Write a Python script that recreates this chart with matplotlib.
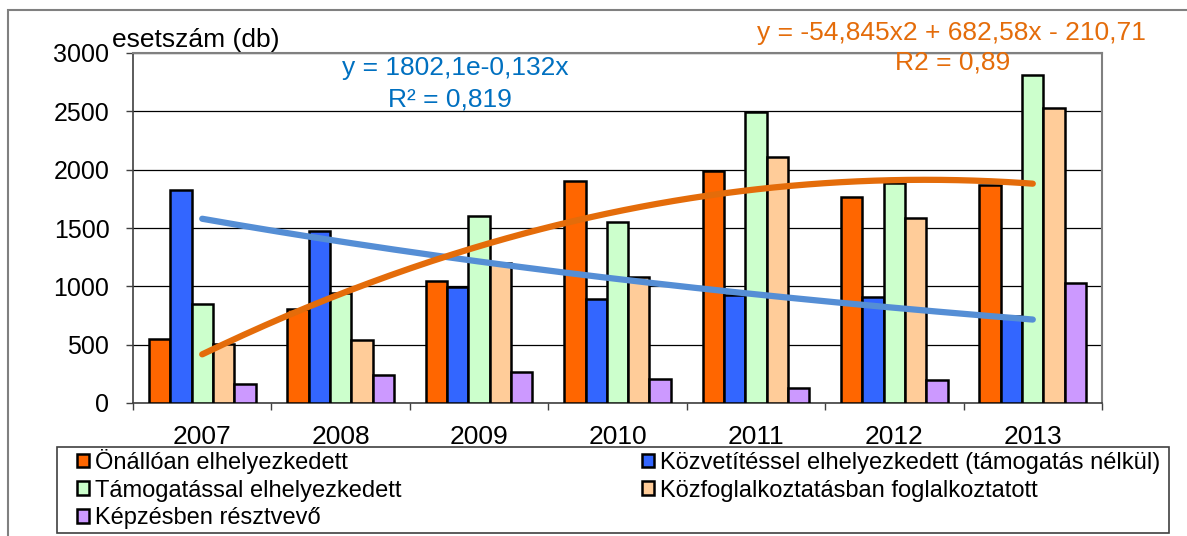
import numpy as np
import matplotlib
matplotlib.use("Agg")
from matplotlib import pyplot as plt
from matplotlib.patches import Rectangle

plt.rcParams['font.family'] = ['Liberation Sans', 'DejaVu Sans']

years = ['2007', '2008', '2009', '2010', '2011', '2012', '2013']
series_names = [
    'Önállóan elhelyezkedett',
    'Közvetítéssel elhelyezkedett (támogatás nélkül)',
    'Támogatással elhelyezkedett',
    'Közfoglalkoztatásban foglalkoztatott',
    'Képzésben résztvevő',
]
onallo = [550, 810, 1045, 1905, 1985, 1765, 1870]
kozvetites = [1825, 1475, 995, 895, 925, 905, 750]
tamogatas = [850, 945, 1605, 1555, 2495, 1890, 2815]
kozfoglalkoztatas = [510, 540, 1200, 1080, 2110, 1590, 2525]
kepzes = [165, 240, 270, 210, 130, 200, 1025]
colors = ['#FF6600', '#3366FF', '#CCFFCC', '#FFCC99', '#CC99FF']

# trend lines as printed on the chart (x = 1..7)
exp_a, exp_b = 1802.1, -0.132
quad = [-54.845, 682.58, -210.71]

W, H = 1187, 536
fig = plt.figure(figsize=(W / 100, H / 100), dpi=100)
ax = fig.add_axes([133 / W, 133 / H, 969 / W, 350 / H])

values = [onallo, kozvetites, tamogatas, kozfoglalkoztatas, kepzes]
n = len(values)
w = 0.154
x = np.arange(len(years))
bars = []
for i, (vals, c) in enumerate(zip(values, colors)):
    b = ax.bar(x + (i - (n - 1) / 2) * w, vals, width=w, color=c,
               edgecolor='black', linewidth=1.8, zorder=3)
    bars.append(b)

# trend lines
t = np.linspace(1, 7, 200)
ax.plot(t - 1, exp_a * np.exp(exp_b * t), color='#558ED5', lw=4.5,
        solid_capstyle='round', zorder=4)
ax.plot(t - 1, np.polyval(quad, t), color='#E46C0A', lw=4.5,
        solid_capstyle='round', zorder=4)

ax.set_xlim(-0.5, len(years) - 0.5)
ax.set_ylim(0, 3000)
ax.set_yticks(range(0, 3001, 500))
ax.yaxis.grid(True, color='#000000', lw=0.9, zorder=0)
ax.set_axisbelow(True)
ax.tick_params(axis='y', labelsize=18, length=5, width=1, color='#404040', pad=12)

ax.set_xticks(np.arange(-0.5, len(years), 1.0))
ax.set_xticklabels([])
ax.set_xticks(x, minor=True)
ax.set_xticklabels(years, minor=True, fontsize=19)
ax.tick_params(axis='x', which='major', length=5, width=1, color='#404040')
ax.tick_params(axis='x', which='minor', length=0, pad=16)

for s in ['left', 'bottom']:
    ax.spines[s].set_color('#404040')
    ax.spines[s].set_linewidth(1.2)
for s in ['top', 'right']:
    ax.spines[s].set_color('#808080')
    ax.spines[s].set_linewidth(1.5)

fig.text(112 / W, 1 - 40 / H, 'esetszám (db)', fontsize=19, va='center', ha='left')
fig.text(455 / W, 1 - 68 / H, 'y = 1802,1e-0,132x', fontsize=19,
         color='#0070C0', ha='center', va='center')
fig.text(450 / W, 1 - 99 / H, 'R² = 0,819', fontsize=19,
         color='#0070C0', ha='center', va='center')
fig.text(951 / W, 1 - 33 / H, 'y = -54,845x2 + 682,58x - 210,71', fontsize=19,
         color='#E46C0A', ha='center', va='center')
fig.text(953 / W, 1 - 62 / H, 'R2 = 0,89', fontsize=19,
         color='#E46C0A', ha='center', va='center')

# legend box
fig.patches.append(Rectangle((57 / W, 3 / H), 1112 / W, 86 / H,
                             transform=fig.transFigure, fill=False,
                             edgecolor='#404040', lw=1.2))
order = [0, 2, 4, 1, 3]
fig.legend([bars[i] for i in order], [series_names[i] for i in order],
           ncol=2, mode='expand', loc='center',
           bbox_to_anchor=(77 / W, 4 / H, 1083 / W, 86 / H),
           fontsize=17, handlelength=0.5, handleheight=0.5,
           handletextpad=0.25, labelspacing=0.24, borderpad=0,
           frameon=False, borderaxespad=0)

# outer chart border
fig.patches.append(Rectangle((8 / W, -10 / H), 1.2, (536 - 10 + 10) / H,
                             transform=fig.transFigure, fill=False,
                             edgecolor='#808080', lw=1.5))

fig.savefig('out.png', dpi=100)
